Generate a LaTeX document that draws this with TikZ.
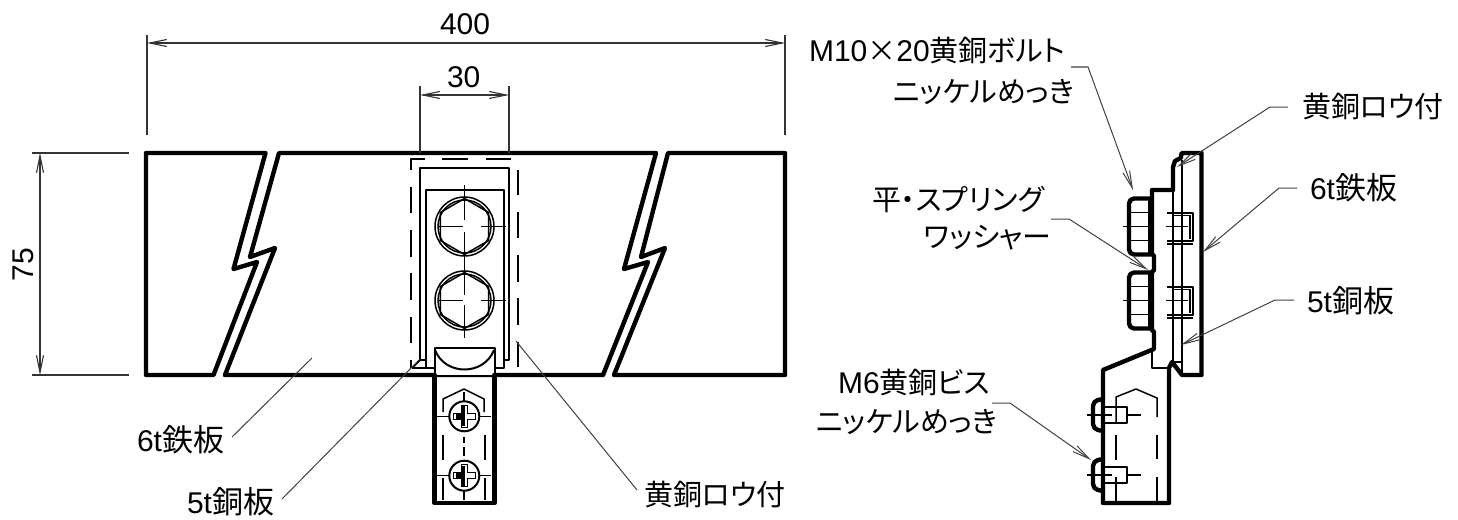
\documentclass[tikz,border=0pt]{standalone}
\usepackage{fontspec}
\setmainfont{Liberation Sans}
\newfontfamily\jp[RawFeature=+palt]{Noto Sans CJK JP}
\usetikzlibrary{arrows.meta}
\newcommand{\kj}[1]{{\fontsize{31}{32}\selectfont\jp #1}}
\newcommand{\kn}[1]{{\fontsize{29}{32}\selectfont\jp #1}}
\tikzset{
  x=1pt,y=-1pt,
  thickline/.style={line width=4.4pt,line join=round,line cap=round},
  midline/.style={line width=2pt,line join=round},
  thinline/.style={line width=1.5pt},
  dimline/.style={line width=1.1pt,draw=black!80},
  leader/.style={line width=1pt,draw=black!75},
  barb/.style={-{Straight Barb[length=17pt,width=7pt]}},
  barbs/.style={{Straight Barb[length=17pt,width=7pt]}-{Straight Barb[length=17pt,width=7pt]}},
  lab/.style={anchor=base west,inner sep=0pt,outer sep=0pt,font=\fontsize{30}{32}\selectfont},
}
\newcommand{\bolthead}[2]{%
  \draw[thinline] (#1,#2) circle (29.5);
  \draw[thinline] (#1,#2) circle (26.5);
  \draw[thinline] (#1,#2-28)--(#1+24.2,#2-14)--(#1+24.2,#2+14)--(#1,#2+28)--(#1-24.2,#2+14)--(#1-24.2,#2-14)--cycle;
  \draw[thinline] (#1-26,#2)--(#1-2,#2) (#1+16,#2)--(#1+41,#2);
}
\newcommand{\screwhead}[2]{%
  \draw[midline,fill=white] (#1,#2) circle (15);
  \draw[thinline] (#1-27,#2)--(#1-15,#2) (#1+15,#2)--(#1+27,#2);
  \draw[thinline,fill=white] (#1-3,#2-11)--(#1+3,#2-11)--(#1+3,#2-3)--(#1+11,#2-3)--(#1+11,#2+3)--(#1+3,#2+3)--(#1+3,#2+11)--(#1-3,#2+11)--(#1-3,#2+3)--(#1-11,#2+3)--(#1-11,#2-3)--(#1-3,#2-3)--cycle;
  \fill (#1-8,#2-3) rectangle (#1+1,#2+3);
  \fill (#1-3,#2-10) rectangle (#1+1,#2+10);
}
\begin{document}
\begin{tikzpicture}
\useasboundingbox (0,0) rectangle (1458,519);
% ---------- plate, front view
\draw[thickline] (265.5,153)--(146,153)--(146,375)--(213.5,375)--(257,262)--(233.5,269)--cycle;
\draw[thickline] (279,153)--(656,153)--(624,269)--(648,262)--(603,375)--(225,375)--(275,248)--(250,257)--cycle;
\draw[thickline] (668,153)--(785,153)--(785,375)--(614,375)--(665,248)--(641,257)--cycle;
% braze + plate details
\draw[midline] (420,360)--(420,168)--(509,168)--(509,360)--(503.5,360);
\draw[midline] (420,360)--(426,360);
\draw[midline] (434,368)--(426,368)--(426,190)--(503.5,190)--(503.5,368)--(495,368);
\draw[midline] (412,368)--(426,368);
\draw[midline] (412,368)--(420,360);
% hidden outline
\draw[midline] (425,159)--(410.7,159)--(410.7,170);
\draw[midline] (442,159)--(468,159) (486,159)--(511,159);
\foreach \a/\b in {187/213,230/257,273/300,317/343,360/368}{\draw[midline] (410.7,\a)--(410.7,\b);}
\foreach \a/\b in {170/195,212/238,255/282,298/325,342/367}{\draw[midline] (518.3,\a)--(518.3,\b);}
% bolts
\bolthead{464.5}{226.5}
\bolthead{464.5}{300.5}
\draw[thinline] (464.5,185)--(464.5,220) (464.5,232)--(464.5,295) (464.5,305)--(464.5,338);
% tab
\draw[midline,fill=white] (434.5,375)--(434.5,348)--(495,348)--(495,375);
\draw[midline] (435,350) .. controls (445,376) and (484,376) .. (494,350);
\draw[thickline] (434.5,375)--(434.5,503)--(494.5,503)--(494.5,375);
\draw[thickline] (225,375)--(434.5,375) (494.5,375)--(603,375);
\draw[thinline] (443,412)--(443,399)--(464,389)--(484,399)--(484,412);
\draw[midline] (443,435)--(443,460) (485,435)--(485,460) (443,478)--(443,500) (485,478)--(485,500);
\draw[thinline] (464,392)--(464,402) (464,437)--(464,443) (464,447)--(464,456) (464,490)--(464,500);
\screwhead{464.3}{416.3}
\screwhead{464.3}{475.7}
% ---------- side view
\draw[thickline] (1201.5,153)--(1181.7,153)--(1180.7,158)--(1175,161)--(1173,167)--(1173,190)--(1152,190)--(1152,254)--(1154,256)--(1154,270)--(1152,272)--(1152,330)--(1154,332)--(1154,349)--(1103,370)--(1103,503)--(1169,503)--(1169,368)--(1172,362)--(1182,375)--(1201.5,375)--cycle;
\draw[midline] (1173,165)--(1173,362) (1182,160)--(1182,375);
\draw[midline] (1152,349)--(1152,368)--(1169,368);
\draw[midline] (1172,362)--(1182,362);
% M10 bolts side
\foreach \c in {226.5,300.5}{
  \draw[thickline,rounded corners=5pt] (1150,\c-28)--(1129,\c-28)--(1129,\c+28)--(1150,\c+28);
  \draw[line width=3.5pt] (1150,\c-28)--(1150,\c+28);
  \draw[thinline] (1130,\c-14)--(1150,\c-14) (1130,\c+14)--(1150,\c+14);
  \draw[thinline] (1123,\c)--(1148,\c) (1166,\c)--(1188,\c);
  \draw[midline] (1167,\c-14)--(1193,\c-14)--(1193,\c+14)--(1167,\c+14);
  \draw[thinline] (1173,\c-11)--(1190,\c-11)--(1190,\c+12);
  \draw[midline] (1167,\c+17)--(1193,\c+17);
}
% M6 screws side
\foreach \c in {415,475}{
  \draw[thickline,rounded corners=5pt] (1103,\c-16)--(1093,\c-14)--(1093,\c+14)--(1103,\c+16);
  \draw[midline] (1103,\c-8)--(1127,\c-8)--(1127,\c+8)--(1103,\c+8);
  \draw[thinline] (1087,\c)--(1112,\c) (1128,\c)--(1141,\c);
}
\draw[thinline] (1116,422)--(1116,397)--(1136,389)--(1157,398)--(1157,417);
\draw[midline] (1116,435)--(1116,460) (1157,435)--(1157,459) (1116,477)--(1116,503) (1157,477)--(1157,503);
% ---------- dimensions
\coordinate (d4a) at (147,43); \coordinate (d4b) at (785,43);
\coordinate (d3a) at (420,95); \coordinate (d3b) at (509,95);
\coordinate (d7a) at (40,153); \coordinate (d7b) at (40,375);
\draw[dimline,barbs] (d4a)--(d4b);
\draw[dimline,barbs] (d3a)--(d3b);
\draw[dimline,barbs] (d7a)--(d7b);
\draw[dimline] (147,35)--(147,135) (785,35)--(785,135);
\draw[dimline] (420,86)--(420,153) (509,86)--(509,153);
\draw[dimline] (32,153)--(129,153) (32,375)--(129,375);
\node[lab] (n400) at (440,35) {400};
\node[lab] (n30) at (447,88) {30};
\node[lab,rotate=90] (n75) at (33,281) {75};
% ---------- labels
\node[lab] (t1) at (809,62) {M10\kn{×}20\kn{黄銅ボルト}};
\node[lab] (t2) at (893,102) {\kn{ニッケルめっき}};
\node[lab] (t3) at (872,210) {\kn{平・スプリング}};
\node[lab] (t4) at (924,247) {\kn{ワッシャー}};
\node[lab] (t5) at (838,393) {M6\kn{黄銅ビス}};
\node[lab] (t6) at (816,432) {\kn{ニッケルめっき}};
\node[lab] (t7) at (1302,117) {\kn{黄銅ロウ付}};
\node[lab] (t8) at (1310,199) {6t\kj{鉄板}};
\node[lab] (t9) at (1307,312) {5t\kj{銅板}};
\node[lab] (t10) at (137,451) {6t\kj{鉄板}};
\node[lab] (t11) at (187,513) {5t\kj{銅板}};
\node[lab] (t12) at (644,505) {\kn{黄銅ロウ付}};
% ---------- leaders
\coordinate (a1) at (1071,67); \coordinate (a2) at (1088,67); \coordinate (a3) at (1133,190);
\draw[leader,barb] (a1)--(a2)--(a3);
\coordinate (b1) at (1051,219); \coordinate (b2) at (1069,219); \coordinate (b3) at (1148,270);
\draw[leader,barb] (b1)--(b2)--(b3);
\coordinate (c1) at (1288,107); \coordinate (c2) at (1270,107); \coordinate (c3) at (1177,167);
\draw[leader,barb] (c1)--(c2)--(c3);
\coordinate (e1) at (1297,188); \coordinate (e2) at (1279,188); \coordinate (e3) at (1203,252);
\draw[leader,barb] (e1)--(e2)--(e3);
\coordinate (f1) at (1294,300); \coordinate (f2) at (1275,300); \coordinate (f3) at (1181,345);
\draw[leader,barb] (f1)--(f2)--(f3);
\coordinate (g1) at (992,403); \coordinate (g2) at (1010,403); \coordinate (g3) at (1091,460);
\draw[leader,barb] (g1)--(g2)--(g3);
\coordinate (h1) at (232,437); \coordinate (h2) at (312,358);
\draw[leader] (h1)--(h2);
\coordinate (i1) at (282,499); \coordinate (i2) at (417,362);
\draw[leader] (i1)--(i2);
\coordinate (j1) at (637,490); \coordinate (j2) at (516,341);
\draw[leader] (j1)--(j2);
\end{tikzpicture}
\end{document}
